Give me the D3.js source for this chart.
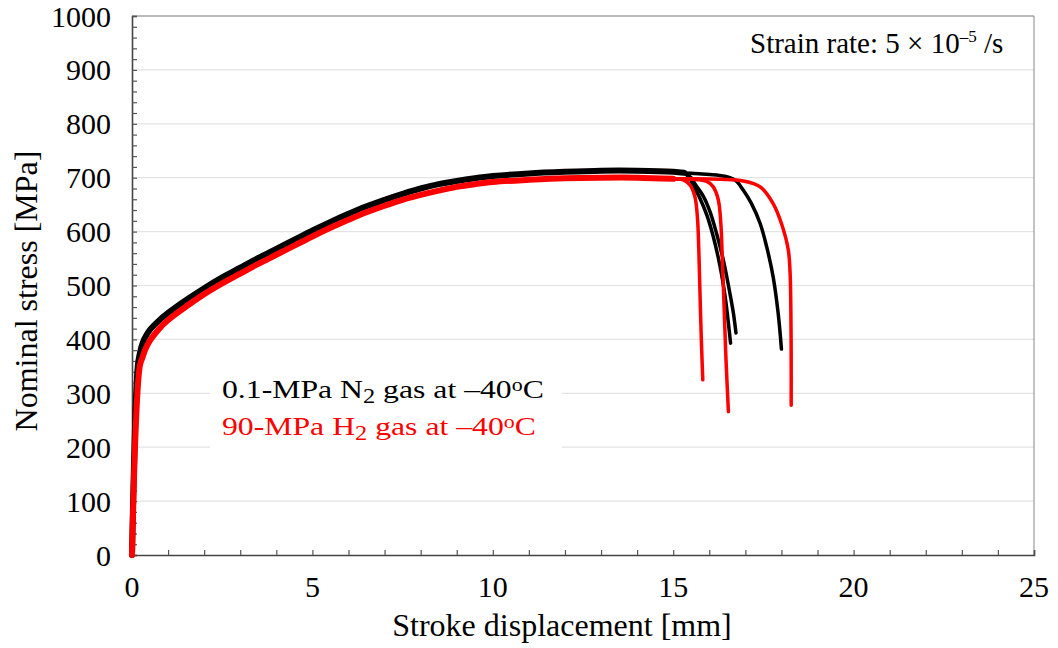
<!DOCTYPE html>
<html>
<head>
<meta charset="utf-8">
<script src="https://cdn.jsdelivr.net/npm/d3@7/dist/d3.min.js"></script>
<style>
  html, body { margin: 0; padding: 0; background: #fff; }
  svg text { font-family: "Liberation Serif", "Times New Roman", serif; }
</style>
</head>
<body>
<div id="chart"></div>
<script>
// Common part of the three curves in each gas (x = stroke mm, y = stress MPa)
const n2BodyX = [0, 0.16, 0.22, 0.3, 0.4, 0.5, 0.73, 1.0, 1.5, 2.0, 2.5, 3.0, 3.5, 4.0, 4.5, 5.0, 5.5, 6.0, 6.5, 7.0, 7.5, 8.0, 8.5, 9.0, 9.5, 10.0, 11.0, 12.0, 13.0, 14.0, 15.0, 15.3];
const n2BodyY = [0, 350, 375, 394, 408, 418, 434, 449, 473, 495, 515, 533, 551, 568, 585, 602, 618, 633, 647, 659, 670, 680, 688, 694, 699, 703, 708, 711, 713, 713, 711, 709];
const h2BodyX = [0, 0.22, 0.3, 0.36, 0.5, 0.73, 1.0, 1.5, 2.0, 2.5, 3.0, 3.5, 4.0, 4.5, 5.0, 5.5, 6.0, 6.5, 7.0, 7.5, 8.0, 8.5, 9.0, 9.5, 10.0, 11.0, 12.0, 13.0, 14.0, 15.0];
const h2BodyY = [0, 352, 368, 380, 398, 418, 436, 461, 484, 504, 522, 540, 557, 574, 591, 607, 622, 636, 648, 659, 668, 676, 683, 688, 692, 696, 699, 700, 700, 698];

// Fracture tails, one per specimen
const n2TailAX = [15.47, 15.56, 15.74, 15.93, 16.11, 16.3, 16.44, 16.53, 16.59];
const n2TailAY = [697, 685, 662, 631, 591, 535, 479, 430, 393];
const n2TailBX = [15.5, 15.61, 15.84, 16.02, 16.2, 16.39, 16.57, 16.67, 16.74];
const n2TailBY = [700, 688, 665, 637, 597, 547, 486, 448, 412];
const n2TailCX = [15.8, 16.2, 16.57, 16.76, 16.94, 17.17, 17.41, 17.59, 17.77, 17.91, 18.0];
const n2TailCY = [707, 705, 700, 693, 677, 652, 615, 572, 516, 448, 382];

const h2TailAX = [15.28, 15.47, 15.6, 15.67, 15.71, 15.74, 15.78, 15.82];
const h2TailAY = [696, 686, 665, 628, 566, 492, 399, 325];
const h2TailBX = [15.5, 15.93, 16.11, 16.25, 16.32, 16.36, 16.41, 16.46, 16.53];
const h2TailBY = [697, 693, 683, 659, 615, 553, 461, 368, 266];
const h2TailCX = [15.5, 16.3, 16.94, 17.41, 17.77, 18.0, 18.19, 18.24, 18.26, 18.27, 18.27];
const h2TailCY = [698, 697, 694, 683, 652, 615, 566, 523, 461, 370, 278];

const xTicks = [0, 5, 10, 15, 20, 25];
const yTicks = [0, 100, 200, 300, 400, 500, 600, 700, 800, 900, 1000];

const toPts = (xs, ys) => xs.map((x, i) => [x, ys[i]]);

const width = 1058, height = 648;
const margin = { left: 132, top: 16, right: 24, bottom: 93 };
const innerW = width - margin.left - margin.right;
const innerH = height - margin.top - margin.bottom;

const svg = d3.select("#chart").append("svg")
  .attr("width", width)
  .attr("height", height);

const g = svg.append("g")
  .attr("transform", `translate(${margin.left},${margin.top})`);

const x = d3.scaleLinear().domain([0, 25]).range([0, innerW]);
const y = d3.scaleLinear().domain([0, 1000]).range([innerH, 0]);

// Horizontal grid lines
g.selectAll(".grid")
  .data(yTicks.filter(v => v > 0 && v < 1000))
  .enter().append("line")
  .attr("x1", 0).attr("x2", innerW)
  .attr("y1", d => y(d)).attr("y2", d => y(d))
  .attr("stroke", "#e3e3e3")
  .attr("stroke-width", 1.2);

// Frame: top and right
g.append("line").attr("x1", 0).attr("x2", innerW).attr("y1", 0).attr("y2", 0)
  .attr("stroke", "#777").attr("stroke-width", 1);
g.append("line").attr("x1", innerW).attr("x2", innerW).attr("y1", 0).attr("y2", innerH)
  .attr("stroke", "#888").attr("stroke-width", 1);

// Axes with inward ticks
const yAxis = g.append("g")
  .call(d3.axisRight(y).ticks(50).tickSize(5).tickFormat(""));
const xAxis = g.append("g")
  .attr("transform", `translate(0,${innerH})`)
  .call(d3.axisTop(x).ticks(25).tickSize(5).tickFormat(""));
[yAxis, xAxis].forEach(a => {
  a.select(".domain").attr("stroke", "#444").attr("stroke-width", 1.6);
  a.selectAll(".tick line").attr("stroke", "#555").attr("stroke-width", 1.2);
});

// Tick labels
g.selectAll(".ylab")
  .data(yTicks)
  .enter().append("text")
  .attr("x", -21)
  .attr("y", d => y(d))
  .attr("dy", "0.35em")
  .attr("text-anchor", "end")
  .style("font-size", "30px")
  .attr("fill", "#000")
  .text(d => d);

g.selectAll(".xlab")
  .data(xTicks)
  .enter().append("text")
  .attr("x", d => x(d))
  .attr("y", innerH + 42)
  .attr("text-anchor", "middle")
  .style("font-size", "30px")
  .attr("fill", "#000")
  .text(d => d);

// Axis titles
svg.append("text")
  .attr("transform", `translate(37,${margin.top + 275}) rotate(-90)`)
  .attr("text-anchor", "middle")
  .style("font-size", "32px")
  .text("Nominal stress [MPa]");

svg.append("text")
  .attr("x", 562)
  .attr("y", 636)
  .attr("text-anchor", "middle")
  .style("font-size", "32px")
  .text("Stroke displacement [mm]");

// Curves
const line = d3.line()
  .x(d => x(d[0]))
  .y(d => y(d[1]))
  .curve(d3.curveCatmullRom.alpha(0.5));

const groups = [
  { color: "#000", body: toPts(n2BodyX, n2BodyY),
    tails: [toPts(n2TailAX, n2TailAY), toPts(n2TailBX, n2TailBY), toPts(n2TailCX, n2TailCY)] },
  { color: "#ff0000", body: toPts(h2BodyX, h2BodyY),
    tails: [toPts(h2TailAX, h2TailAY), toPts(h2TailBX, h2TailBY), toPts(h2TailCX, h2TailCY)] }
];

groups.forEach(grp => {
  grp.tails.forEach(t => {
    g.append("path")
      .datum(grp.body.filter(p => p[0] >= 13).concat(t))
      .attr("d", line)
      .attr("fill", "none")
      .attr("stroke", grp.color)
      .attr("stroke-width", 3.5)
      .attr("stroke-linejoin", "round")
      .attr("stroke-linecap", "round");
  });
  g.append("path")
    .datum(grp.body)
    .attr("d", line)
    .attr("fill", "none")
    .attr("stroke", grp.color)
    .attr("stroke-width", 6)
    .attr("stroke-linejoin", "round")
    .attr("stroke-linecap", "round");
});

// Legend (white box hides the grid)
svg.append("rect")
  .attr("x", 210).attr("y", 372)
  .attr("width", 352).attr("height", 80)
  .attr("fill", "#fff");

function legendText(tx, ty, color, head) {
  const t = svg.append("text")
    .attr("transform", `translate(${tx},${ty}) scale(1.22,1)`)
    .attr("fill", color)
    .style("font-size", "26px");
  t.append("tspan").text(head);
  t.append("tspan").attr("dy", 5).style("font-size", "20px").text("2");
  t.append("tspan").attr("dy", -5).text(" gas at \u201340");
  t.append("tspan").attr("dy", -7).style("font-size", "18px").text("o");
  t.append("tspan").attr("dy", 7).text("C");
}
legendText(222, 398, "#000", "0.1-MPa N");
legendText(222, 435, "#ff0000", "90-MPa H");

// Strain rate note
const note = svg.append("text")
  .attr("x", 750).attr("y", 53)
  .style("font-size", "29px")
  .attr("fill", "#000");
note.append("tspan").text("Strain rate: 5 \u00d7 10");
note.append("tspan").attr("dy", -11).style("font-size", "17px").text("\u20135");
note.append("tspan").attr("dy", 11).text(" /s");
</script>
</body>
</html>
